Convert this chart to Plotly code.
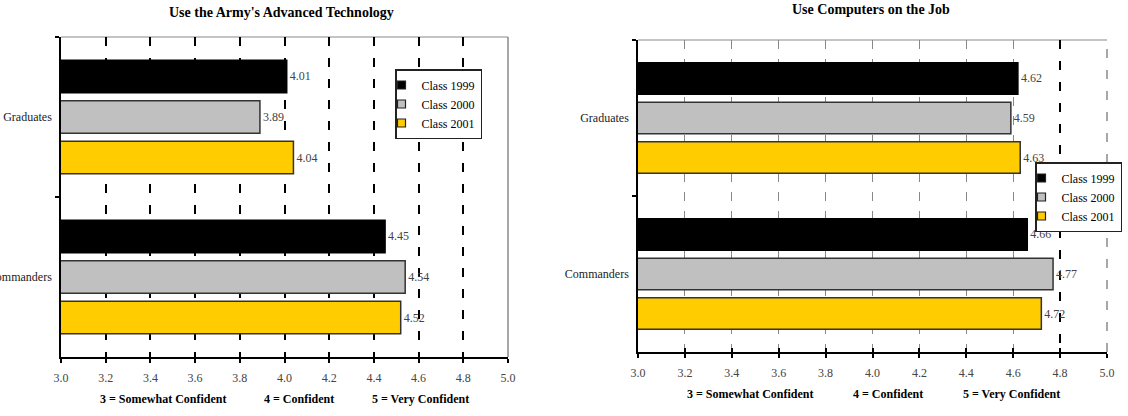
import plotly.graph_objects as go

# ---------------- data ----------------
categories = ["Graduates", "Commanders"]
series_names = ["Class 1999", "Class 2000", "Class 2001"]
army_tech = {
    "Class 1999": [4.01, 4.45],
    "Class 2000": [3.89, 4.54],
    "Class 2001": [4.04, 4.52],
}
computers = {
    "Class 1999": [4.62, 4.66],
    "Class 2000": [4.59, 4.77],
    "Class 2001": [4.63, 4.72],
}
x_ticks = [3.0, 3.2, 3.4, 3.6, 3.8, 4.0, 4.2, 4.4, 4.6, 4.8, 5.0]
title_left = "Use the Army's Advanced Technology"
title_right = "Use Computers on the Job"
scale_notes = ["3 = Somewhat Confident", "4 = Confident", "5 = Very Confident"]

# ---------------- styles ----------------
W, H = 1128, 416
FONT = "Liberation Serif"
fills = {"Class 1999": "#000000", "Class 2000": "#C0C0C0", "Class 2001": "#FFCC00"}
outlines = {"Class 1999": "#000000", "Class 2000": "#333333", "Class 2001": "#333333"}


def px_x(p):
    return p / W


def px_y(p):
    return 1 - p / H


fig = go.Figure()

panels = [
    (army_tech, "x", "y", "legend"),
    (computers, "x2", "y2", "legend2"),
]
for data, xa, ya, lg in panels:
    for name in series_names:
        fig.add_trace(go.Bar(
            y=categories, x=data[name], name=name, orientation="h",
            marker=dict(color=fills[name], line=dict(color=outlines[name], width=1.5)),
            text=[f"{v:.2f}" for v in data[name]], textposition="outside",
            textfont=dict(family=FONT, size=12, color="#444444"),
            cliponaxis=False, xaxis=xa, yaxis=ya, showlegend=False,
        ))
    # legend entries (small square swatches like the original)
    for name in series_names:
        fig.add_trace(go.Scatter(
            x=[None], y=[None], mode="markers", name=name, xaxis=xa, yaxis=ya, legend=lg,
            marker=dict(symbol="square", size=8, color=fills[name],
                        line=dict(color="#222222", width=1.2)),
            hoverinfo="skip",
        ))

# invisible carriers so the overlay grid axes get drawn
for ov, ya in [("x3", "y"), ("x4", "y2"), ("x5", "y2")]:
    fig.add_trace(go.Scatter(
        x=[x_ticks[0]], y=[categories[0]], mode="markers", xaxis=ov, yaxis=ya,
        marker=dict(opacity=0, size=1), showlegend=False, hoverinfo="skip",
    ))

left_dom = [px_x(61), px_x(508)]
right_dom = [px_x(638), px_x(1107)]
left_ydom = [px_y(357), px_y(37)]
right_ydom = [px_y(352), px_y(40)]

main_x = dict(
    range=[3, 5], tickvals=x_ticks, ticktext=[f"{v:.1f}" for v in x_ticks],
    showgrid=False, zeroline=False, showline=True, linecolor="#000000", linewidth=1.5,
    ticks="outside", ticklen=4, tickwidth=1.5, tickcolor="#000000", automargin=False,
    tickfont=dict(family=FONT, size=12, color="#444444"), ticklabelstandoff=5,
)
main_y = dict(
    type="category", categoryorder="array", categoryarray=categories, autorange="reversed",
    showgrid=False, zeroline=False, showline=True, linecolor="#000000", linewidth=1.5,
    ticks="outside", ticklen=4, tickwidth=1.5, tickcolor="#000000", tickson="boundaries",
    tickfont=dict(family=FONT, size=12, color="#222222"), ticklabelstandoff=5,
    automargin=False,
)

overlay_common = dict(range=[3, 5], showline=False, zeroline=False, showticklabels=False,
                      ticks="inside", ticklen=4, tickwidth=1.5, tickcolor="#000000",
                      automargin=False)

legend_common = dict(xanchor="left", yanchor="top", bgcolor="white",
                     bordercolor="#222222", borderwidth=1.5,
                     font=dict(family=FONT, size=12, color="#000000"),
                     tracegroupgap=0, itemwidth=30, indentation=-15)

fig.update_layout(
    width=W, height=H, margin=dict(l=0, r=0, t=0, b=0),
    paper_bgcolor="white", plot_bgcolor="white",
    barmode="group", bargap=0.24, bargroupgap=0.2,
    font=dict(family=FONT, color="#000000"),
    xaxis=dict(domain=left_dom, anchor="y", **main_x),
    yaxis=dict(domain=left_ydom, anchor="x", **main_y),
    xaxis2=dict(domain=right_dom, anchor="y2", **main_x),
    yaxis2=dict(domain=right_ydom, anchor="x2", **main_y),
    # left chart dashed black grid
    xaxis3=dict(overlaying="x", anchor="y", tickvals=x_ticks[1:-1],
                showgrid=True, gridcolor="#000000", gridwidth=1.5, griddash="9px,12px",
                **overlay_common),
    # right chart light grid
    xaxis4=dict(overlaying="x2", anchor="y2", tickvals=x_ticks[1:-2],
                showgrid=True, gridcolor="#888888", gridwidth=1.2, griddash="9px,10px",
                **overlay_common),
    # right chart dark reference line at 4.8
    xaxis5=dict(overlaying="x2", anchor="y2", tickvals=[x_ticks[-2]],
                showgrid=True, gridcolor="#000000", gridwidth=1.5, griddash="9px,12px",
                **overlay_common),
    legend=dict(x=px_x(395), y=px_y(69), **legend_common),
    legend2=dict(x=px_x(1035), y=px_y(162), **legend_common),
    showlegend=True,
)

# plot-area borders (top & right)
for xr, yr, rdash in [("x", "y", "solid"), ("x2", "y2", "dash")]:
    fig.add_shape(type="line", xref=f"{xr} domain", yref=f"{yr} domain",
                  x0=0, x1=1, y0=1, y1=1, line=dict(color="#8a8a8a", width=1.2), layer="below")
    fig.add_shape(type="line", xref=f"{xr} domain", yref=f"{yr} domain",
                  x0=1, x1=1, y0=0, y1=1,
                  line=dict(color="#8a8a8a", width=1.5,
                            dash="9px,12px" if rdash == "dash" else "solid"),
                  layer="below")

# titles
fig.add_annotation(text=f"<b>{title_left}</b>", xref="paper", yref="paper",
                   x=px_x(281), y=px_y(12), xanchor="center", yanchor="middle",
                   showarrow=False, font=dict(family=FONT, size=14, color="#000000"))
fig.add_annotation(text=f"<b>{title_right}</b>", xref="paper", yref="paper",
                   x=px_x(871), y=px_y(9), xanchor="center", yanchor="middle",
                   showarrow=False, font=dict(family=FONT, size=14, color="#000000"))

# scale notes under each chart
for centers, ypix in [([163, 299, 420], 399), ([750, 888, 1011], 394)]:
    for txt, cx in zip(scale_notes, centers):
        fig.add_annotation(text=f"<b>{txt}</b>", xref="paper", yref="paper",
                           x=px_x(cx), y=px_y(ypix), xanchor="center", yanchor="middle",
                           showarrow=False, font=dict(family=FONT, size=12, color="#000000"))

fig.write_html("out.html")
